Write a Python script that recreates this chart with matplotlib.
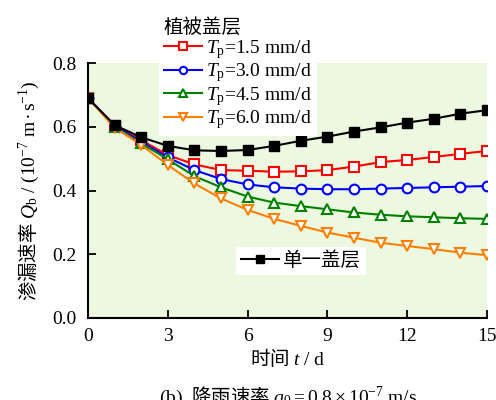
import matplotlib
matplotlib.use("Agg")
import matplotlib.pyplot as plt

plt.rcParams['font.family'] = ['Liberation Serif', 'Noto Sans CJK SC']
plt.rcParams['mathtext.fontset'] = 'custom'
plt.rcParams['mathtext.rm'] = 'Liberation Serif'
plt.rcParams['mathtext.it'] = 'Liberation Serif:italic'
plt.rcParams['mathtext.sf'] = 'Noto Sans CJK SC'
plt.rcParams['font.size'] = 14

days = list(range(16))
single = [0.690, 0.605, 0.567, 0.540, 0.526, 0.524, 0.527, 0.540, 0.556, 0.569,
          0.585, 0.598, 0.613, 0.625, 0.641, 0.652]
tp15 = [0.690, 0.603, 0.558, 0.511, 0.482, 0.464, 0.462, 0.459, 0.460, 0.464,
        0.475, 0.489, 0.496, 0.505, 0.515, 0.524]
tp30 = [0.690, 0.602, 0.553, 0.504, 0.464, 0.436, 0.419, 0.410, 0.406, 0.404,
        0.404, 0.406, 0.408, 0.410, 0.412, 0.414]
tp45 = [0.690, 0.600, 0.548, 0.498, 0.445, 0.410, 0.381, 0.362, 0.351, 0.341,
        0.331, 0.324, 0.319, 0.316, 0.313, 0.311]
tp60 = [0.690, 0.597, 0.543, 0.480, 0.422, 0.375, 0.339, 0.311, 0.289, 0.268,
        0.252, 0.236, 0.226, 0.216, 0.205, 0.197]

labels = [r'$T_{\rm p}$=1.5 mm/d', r'$T_{\rm p}$=3.0 mm/d',
          r'$T_{\rm p}$=4.5 mm/d', r'$T_{\rm p}$=6.0 mm/d']

fig = plt.figure(figsize=(4.96, 4.0), dpi=100)
ax = fig.add_axes([88/496, 1-318/400, (487-88)/496, (318-63)/400])
ax.set_facecolor('#ECF8DF')

series = [(tp15, 'red', 's'), (tp30, 'blue', 'o'), (tp45, 'green', '^'), (tp60, '#FF8000', 'v')]
handles = []
for (vals, c, m), lab in zip(series, labels):
    h, = ax.plot(days, vals, '-', color=c, marker=m, markersize=7, markerfacecolor='white',
                 markeredgewidth=1.5, lw=1.5, label=lab)
    handles.append(h)
hs, = ax.plot(days, single, '-', color='black', marker='s', markersize=7, lw=1.5,
              label='单一盖层')

ax.set_xlim(0, 15)
ax.set_ylim(0, 0.8)
ax.set_xticks([0, 3, 6, 9, 12, 15])
ax.set_yticks([0.0, 0.2, 0.4, 0.6, 0.8])
ax.set_yticklabels(['0.0', '0.2', '0.4', '0.6', '0.8'])
ax.tick_params(direction='in', length=6, width=1.3, labelsize=14)
ax.tick_params(axis='y', pad=8)
ax.tick_params(axis='x', pad=7)
for s in ['top', 'right']:
    ax.spines[s].set_visible(False)
for s in ['left', 'bottom']:
    ax.spines[s].set_linewidth(1.5)

ax.set_xlabel(r'$\mathsf{时间}\ t\ /\ \mathrm{d}$', fontsize=14, labelpad=1)
ax.set_ylabel(r'$\mathsf{渗漏速率}\ Q_{\rm b}\ /\ (10^{-7}\ \mathrm{m}\bullet\mathrm{s}^{-1})$',
              fontsize=14, labelpad=8)

leg1 = ax.legend(handles=handles, title='植被盖层', loc='upper left',
                 bbox_to_anchor=(149/496, 1-4/400), bbox_transform=fig.transFigure,
                 frameon=True, framealpha=1, edgecolor='none', fancybox=False,
                 fontsize=14, title_fontsize=14, handlelength=2.0, handletextpad=0.2,
                 labelspacing=0.03, borderpad=0.25, markerscale=0.75, alignment='left')
ax.add_artist(leg1)
ax.legend(handles=[hs], loc='upper left', bbox_to_anchor=(226/496, 1-237/400),
          bbox_transform=fig.transFigure, frameon=True, framealpha=1, edgecolor='none',
          fancybox=False, fontsize=14, handlelength=2.0, handletextpad=0.2, borderpad=0.25,
          markerscale=0.8)

fig.text(288/496, 1-385/400,
         r'$\mathrm{(b)}\ \ \mathsf{降雨速率}\ q_0\mathrm{=0.8}\times\mathrm{10}^{-7}\ \mathrm{m/s}$',
         ha='center', va='top', fontsize=14)

fig.savefig('out.png', dpi=100)
